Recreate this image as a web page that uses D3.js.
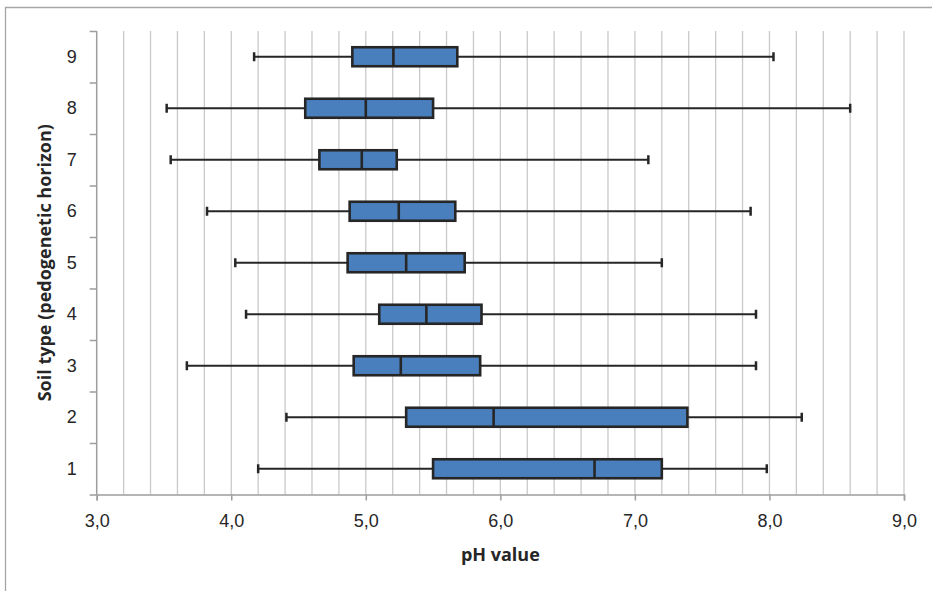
<!DOCTYPE html>
<html>
<head>
<meta charset="utf-8">
<script src="https://cdn.jsdelivr.net/npm/d3@7"></script>
<style>
  body { margin: 0; background: #fff; }
  svg { display: block; }
</style>
</head>
<body>
<svg></svg>
<script>
// soil types (bottom to top) and their box plot stats
var categories = ["1", "2", "3", "4", "5", "6", "7", "8", "9"];
var minVals = [4.20, 4.41, 3.67, 4.11, 4.03, 3.82, 3.55, 3.52, 4.17];
var q1Vals  = [5.50, 5.30, 4.91, 5.10, 4.865, 4.88, 4.655, 4.55, 4.90];
var medVals = [6.70, 5.95, 5.26, 5.45, 5.30, 5.245, 4.97, 5.00, 5.205];
var q3Vals  = [7.20, 7.39, 5.85, 5.86, 5.735, 5.665, 5.23, 5.50, 5.68];
var maxVals = [7.98, 8.24, 7.90, 7.90, 7.20, 7.86, 7.10, 8.60, 8.03];
var xTicks = [3, 4, 5, 6, 7, 8, 9];

var W = 932, H = 591;
var margin = { top: 31, right: 28, bottom: 96.5, left: 96.7 };
var width = W - margin.left - margin.right,
    height = H - margin.top - margin.bottom;

var svg = d3.select("svg")
    .attr("width", W)
    .attr("height", H)
    .attr("font-family", "'Open Sans', sans-serif");

// outer chart frame (cut off at right and bottom like the source)
svg.append("path")
    .attr("d", "M5.5," + (H + 2) + "V7.5H" + (W + 2))
    .attr("fill", "none")
    .attr("stroke", "#a6a6a6")
    .attr("stroke-width", 1.3);

var g = svg.append("g")
    .attr("transform", "translate(" + margin.left + "," + margin.top + ")");

var x = d3.scaleLinear().domain([3, 9]).range([0, width]);
var yLin = d3.scaleLinear().domain([0, categories.length]).range([height, 0]);
var y = d3.scaleBand().domain(categories).range([height, 0]);

var fmt = function(d) { return d3.format(".1f")(d).replace(".", ","); };

// vertical gridlines every 0.2
g.append("g")
    .selectAll("line")
    .data(d3.range(3.2, 9.01, 0.2))
    .enter().append("line")
    .attr("x1", function(d) { return x(d); })
    .attr("x2", function(d) { return x(d); })
    .attr("y1", 0)
    .attr("y2", height)
    .attr("stroke", "#c9c9cc")
    .attr("stroke-width", 1.3);

// x axis
var xAxis = g.append("g")
    .attr("transform", "translate(0," + height + ")")
    .call(d3.axisBottom(x).tickValues(xTicks).tickSize(6).tickPadding(14).tickFormat(fmt));
xAxis.select(".domain").attr("stroke", "#9d9d9d").attr("stroke-width", 1.5);
xAxis.selectAll(".tick line").attr("stroke", "#9d9d9d").attr("stroke-width", 1.5);
xAxis.selectAll("text").attr("font-size", 18).attr("fill", "#262626");

// y axis: tick marks on band edges, labels in band centres
var yAxis = g.append("g")
    .call(d3.axisLeft(yLin).tickValues(d3.range(0, categories.length + 1)).tickSize(7).tickFormat(""));
yAxis.select(".domain").attr("stroke", "#9d9d9d").attr("stroke-width", 1.5).attr("d", "M0," + height + "V0");
yAxis.selectAll(".tick line").attr("stroke", "#9d9d9d").attr("stroke-width", 1.5);

var yLabels = g.append("g")
    .call(d3.axisLeft(y).tickSize(0).tickPadding(20));
yLabels.select(".domain").remove();
yLabels.selectAll("text").attr("font-size", 18).attr("fill", "#262626");

// box plots
var rows = categories.map(function(c, i) {
  return { cat: c, min: minVals[i], q1: q1Vals[i], med: medVals[i], q3: q3Vals[i], max: maxVals[i] };
});

var boxH = 19, capH = 9;
var box = g.selectAll(".box")
    .data(rows)
    .enter().append("g")
    .attr("class", "box")
    .attr("transform", function(d) { return "translate(0," + (y(d.cat) + y.bandwidth() / 2) + ")"; });

box.append("line")
    .attr("x1", function(d) { return x(d.min); })
    .attr("x2", function(d) { return x(d.max); })
    .attr("stroke", "#262626")
    .attr("stroke-width", 2);

box.selectAll(".cap")
    .data(function(d) { return [d.min, d.max]; })
    .enter().append("line")
    .attr("class", "cap")
    .attr("x1", function(v) { return x(v); })
    .attr("x2", function(v) { return x(v); })
    .attr("y1", -capH / 2)
    .attr("y2", capH / 2)
    .attr("stroke", "#262626")
    .attr("stroke-width", 2.5);

box.append("rect")
    .attr("x", function(d) { return x(d.q1); })
    .attr("width", function(d) { return x(d.q3) - x(d.q1); })
    .attr("y", -boxH / 2)
    .attr("height", boxH)
    .attr("fill", "#4a7fbd")
    .attr("stroke", "#262626")
    .attr("stroke-width", 2.6);

box.append("line")
    .attr("x1", function(d) { return x(d.med); })
    .attr("x2", function(d) { return x(d.med); })
    .attr("y1", -boxH / 2)
    .attr("y2", boxH / 2)
    .attr("stroke", "#262626")
    .attr("stroke-width", 2.6);

// axis titles
svg.append("text")
    .attr("x", margin.left + width / 2)
    .attr("y", 561)
    .attr("text-anchor", "middle")
    .attr("font-size", 18)
    .attr("font-weight", "bold")
    .attr("fill", "#262626")
    .text("pH value");

svg.append("text")
    .attr("transform", "translate(51," + (margin.top + height / 2) + ") rotate(-90)")
    .attr("text-anchor", "middle")
    .attr("font-size", 18)
    .attr("font-weight", "bold")
    .attr("fill", "#262626")
    .text("Soil type (pedogenetic horizon)");
</script>
</body>
</html>
